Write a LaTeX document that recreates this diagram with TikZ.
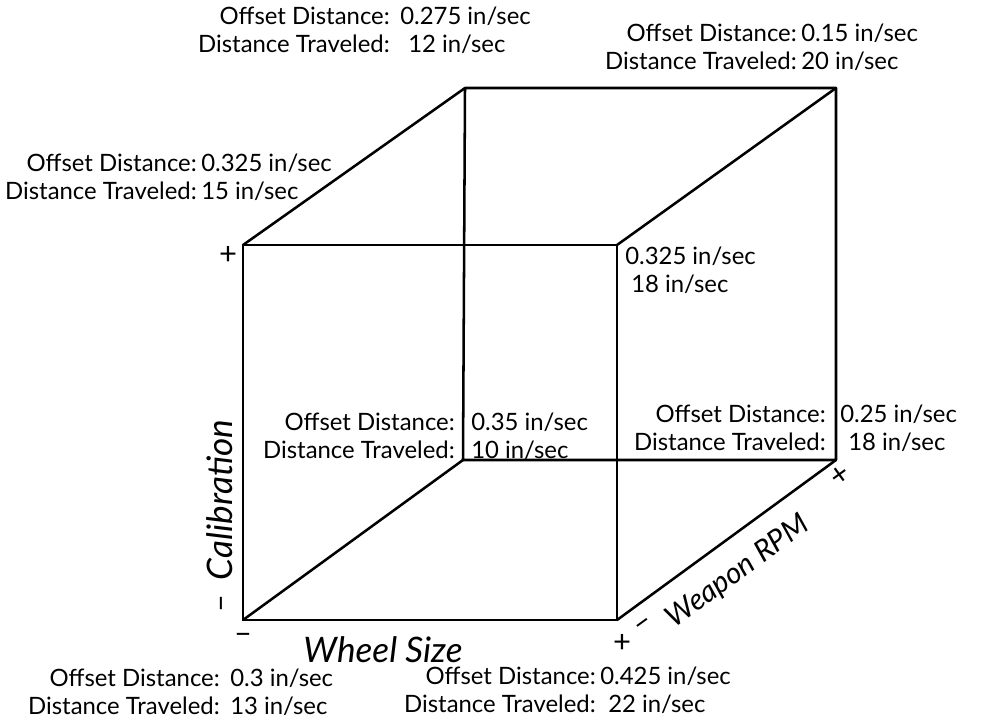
\documentclass[tikz,border=0pt]{standalone}
\usepackage{fontspec}
\setmainfont{Lato}
\usetikzlibrary{positioning}

\newcommand{\hand}{\fontsize{17}{20}\selectfont}

\begin{document}
\begin{tikzpicture}[x=0.25mm, y=-0.25mm,
  edge/.style={line width=1.8pt, line join=round, line cap=round},
  keys/.style={font=\hand, align=right, inner sep=0pt, anchor=east},
  vals/.style={font=\hand, align=left, inner sep=0pt},
  axis/.style={font=\fontsize{25}{28}\selectfont\itshape, inner sep=0pt},
  sign/.style={font=\fontsize{22}{24}\selectfont, inner sep=0pt}
]
\useasboundingbox (0,0) rectangle (982,726);
% cube corners
\coordinate (A) at (243,245);
\coordinate (B) at (617,245);
\coordinate (C) at (617,620);
\coordinate (D) at (243,620);
\coordinate (E) at (465,88);
\coordinate (F) at (836,88);
\coordinate (G) at (836,460);
\coordinate (H) at (463,460);

\draw[edge] (A) -- (B) -- (C) -- (D) -- cycle;
\draw[edge] (E) -- (F) -- (G) -- (H) -- cycle;
\draw[edge] (A) -- (E);
\draw[edge] (B) -- (F);
\draw[edge] (C) -- (G);
\draw[edge] (D) -- (H);

% readouts at the corners
\node[keys] (e-keys) at (390,30) {Offset Distance:\\Distance Traveled:};
\node[vals, right=2.5mm of e-keys] (e-vals) {0.275 in/sec\\\hspace{2mm}12 in/sec};

\node[keys] (f-keys) at (797,47) {Offset Distance:\\Distance Traveled:};
\node[vals, right=1mm of f-keys] (f-vals) {0.15 in/sec\\20 in/sec};

\node[keys] (a-keys) at (197,177) {Offset Distance:\\Distance Traveled:};
\node[vals, right=1mm of a-keys] (a-vals) {0.325 in/sec\\15 in/sec};

\node[vals, anchor=west] (b-vals) at (625,270) {0.325 in/sec\\\hspace{1.5mm}18 in/sec};

\node[keys] (h-keys) at (455,436) {Offset Distance:\\Distance Traveled:};
\node[vals, right=4mm of h-keys] (h-vals) {0.35 in/sec\\10 in/sec};

\node[keys] (g-keys) at (826,428) {Offset Distance:\\Distance Traveled:};
\node[vals, right=3.5mm of g-keys] (g-vals) {0.25 in/sec\\\hspace{2mm}18 in/sec};

\node[keys] (d-keys) at (220,692) {Offset Distance:\\Distance Traveled:};
\node[vals, right=2.5mm of d-keys] (d-vals) {0.3 in/sec\\13 in/sec};

\node[keys] (c-keys) at (596,690) {Offset Distance:\\Distance Traveled:};
\node[vals, right=1mm of c-keys] (c-vals) {0.425 in/sec\\\hspace{2mm}22 in/sec};

% axes
\node[sign] (cal-plus) at (228,255) {+};
\node[sign, rotate=90] (cal-minus) at (225,604) {--};
\node[axis, rotate=90] (cal) at (220,500) {Calibration};

\node[sign] (wheel-minus) at (243,638) {--};
\node[axis] (wheel) at (383,650) {Wheel Size};
\node[sign] (wheel-plus) at (622,643) {+};

\node[sign, rotate=36] (rpm-minus) at (645,626) {--};
\node[axis, font=\fontsize{21}{24}\selectfont\itshape, rotate=36] (rpm) at (738,572) {Weapon RPM};
\node[sign, rotate=36] (rpm-plus) at (840,476) {+};
\end{tikzpicture}
\end{document}
